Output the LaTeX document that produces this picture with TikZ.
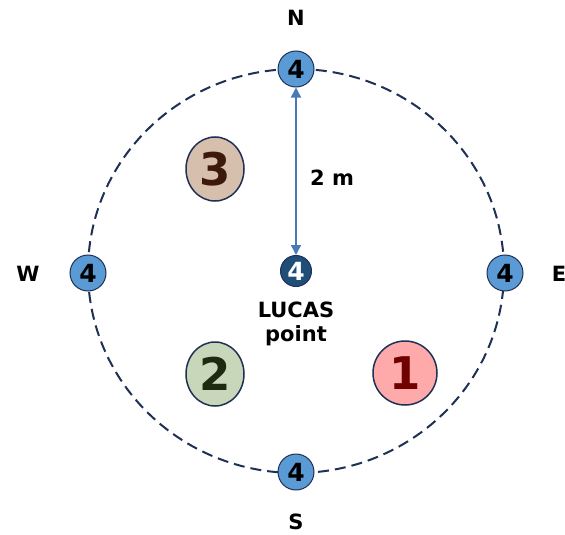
\documentclass[tikz,border=0pt]{standalone}
\usepackage{fontspec}
\setmainfont{DejaVu Sans}
\usepackage{tikz}
\usetikzlibrary{arrows.meta,shapes.geometric}
\definecolor{ringnavy}{RGB}{31,48,85}
\definecolor{dotblue}{RGB}{91,155,213}
\definecolor{centreblue}{RGB}{31,78,121}
\definecolor{arrowblue}{RGB}{74,122,181}
\definecolor{plotthree}{RGB}{215,191,174}
\definecolor{plottwo}{RGB}{200,215,186}
\definecolor{plotone}{RGB}{255,170,170}
\definecolor{textthree}{RGB}{60,25,10}
\definecolor{texttwo}{RGB}{30,42,15}
\definecolor{textone}{RGB}{110,0,0}
\tikzset{
  dot/.style={circle, draw=ringnavy, line width=1pt, fill=dotblue,
    minimum size=36pt, inner sep=0pt, font=\bfseries\fontsize{25}{25}\selectfont},
  plot/.style={ellipse, draw=ringnavy, line width=1.5pt, inner sep=0pt,
    minimum width=58pt, minimum height=64pt, font=\bfseries\fontsize{45}{45}\selectfont},
  compass/.style={font=\bfseries\fontsize{21}{24}\selectfont}
}
\begin{document}
\begin{tikzpicture}[x=1pt, y=-1pt]
  \useasboundingbox (0,0) rectangle (565,535);

  % Ring of radius 2 m
  \draw[ringnavy, line width=2pt, dash pattern=on 11pt off 6pt]
    (296,271) ellipse [x radius=208, y radius=202];

  % Sub-sample points on the ring
  \node[dot] (north) at (296,69) {4};
  \node[dot] (south) at (296,472) {4};
  \node[dot] (west)  at (88,273)  {4};
  \node[dot] (east)  at (505,273) {4};

  % Centre point
  \node[dot, fill=centreblue, text=white, minimum size=31pt] (lucas) at (296,271) {4};
  \node[compass, align=center] (lucaslbl) at (296,324) {LUCAS\\point};

  % Radius
  \draw[<->, arrowblue, line width=1.5pt, >={Triangle[width=10pt, length=10pt]}]
    (north) -- (lucas);
  \node[compass] (radius) at (332,178) {2 m};

  % Plots
  \node[plot, fill=plotthree, text=textthree] (three) at (215,169) {3};
  \node[plot, fill=plottwo, text=texttwo] (two) at (215,374) {2};
  \node[plot, fill=plotone, text=textone, minimum width=64pt] (one) at (405,373) {1};

  % Compass letters
  \node[compass] (nlbl) at (296,18) {N};
  \node[compass] (slbl) at (296,522) {S};
  \node[compass] (wlbl) at (28,274) {W};
  \node[compass] (elbl) at (559,274) {E};

\end{tikzpicture}
\end{document}
